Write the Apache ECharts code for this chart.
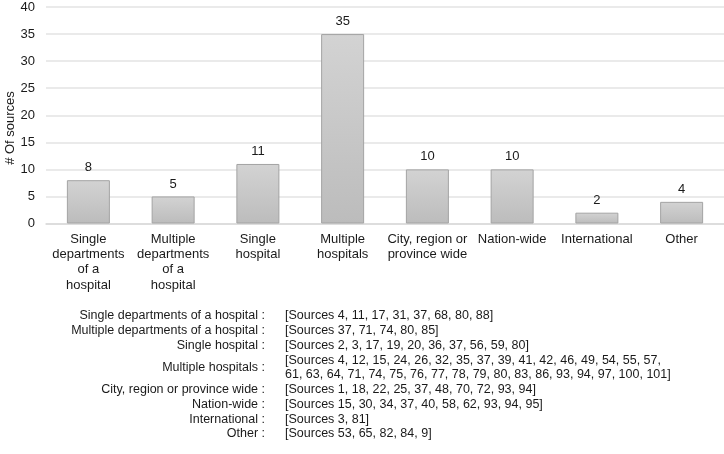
<!DOCTYPE html>
<html>
<head>
<meta charset="utf-8">
<script src="https://cdn.jsdelivr.net/npm/echarts@6/dist/echarts.min.js"></script>
<style>
html,body{margin:0;padding:0;background:#fff;}
#chart{width:724px;height:454px;}
</style>
</head>
<body>
<div id="chart"></div>
<script>
// ---- data ----
var categories = [
  'Single departments of a hospital',
  'Multiple departments of a hospital',
  'Single hospital',
  'Multiple hospitals',
  'City, region or province wide',
  'Nation-wide',
  'International',
  'Other'
];
var tickLabels = [
  'Single\ndepartments\nof a\nhospital',
  'Multiple\ndepartments\nof a\nhospital',
  'Single\nhospital',
  'Multiple\nhospitals',
  'City, region or\nprovince wide',
  'Nation-wide',
  'International',
  'Other'
];
var counts = [8, 5, 11, 35, 10, 10, 2, 4];
var yTicks = [0, 5, 10, 15, 20, 25, 30, 35, 40];

var srcSingleDept = [4, 11, 17, 31, 37, 68, 80, 88];
var srcMultiDept = [37, 71, 74, 80, 85];
var srcSingleHosp = [2, 3, 17, 19, 20, 36, 37, 56, 59, 80];
var srcMultiHosp = [4, 12, 15, 24, 26, 32, 35, 37, 39, 41, 42, 46, 49, 54, 55, 57,
  61, 63, 64, 71, 74, 75, 76, 77, 78, 79, 80, 83, 86, 93, 94, 97, 100, 101];
var srcCity = [1, 18, 22, 25, 37, 48, 70, 72, 93, 94];
var srcNation = [15, 30, 34, 37, 40, 58, 62, 93, 94, 95];
var srcIntl = [3, 81];
var srcOther = [53, 65, 82, 84, 9];
var sourceLists = [srcSingleDept, srcMultiDept, srcSingleHosp, srcMultiHosp, srcCity, srcNation, srcIntl, srcOther];
var wrapAfter = 16; // items on first line before wrapping

// ---- chart ----
var FONT = '"Liberation Sans", Arial, Helvetica, sans-serif';
var TXT = '#1a1a1a';

var chart = echarts.init(document.getElementById('chart'), null, {renderer: 'canvas'});

// Build table text elements
var graphics = [];
var lineY0 = 316, lineStep = 14.75;
var lineIdx = 0;
for (var i = 0; i < categories.length; i++) {
  var list = sourceLists[i];
  var lines = [];
  if (list.length > wrapAfter + 2) {
    lines.push('[Sources ' + list.slice(0, wrapAfter).join(', ') + ',');
    lines.push(list.slice(wrapAfter).join(', ') + ']');
  } else {
    lines.push('[Sources ' + list.join(', ') + ']');
  }
  var firstY = lineY0 + lineIdx * lineStep;
  var labelY = firstY + (lines.length - 1) * lineStep / 2;
  graphics.push({
    type: 'text', x: 265, y: labelY,
    style: {text: categories[i] + ' :', fill: TXT, font: '12.5px ' + FONT, textAlign: 'right', textVerticalAlign: 'middle'}
  });
  for (var j = 0; j < lines.length; j++) {
    graphics.push({
      type: 'text', x: 285, y: firstY + j * lineStep,
      style: {text: lines[j], fill: TXT, font: '12.5px ' + FONT, textAlign: 'left', textVerticalAlign: 'middle'}
    });
  }
  lineIdx += lines.length;
}
graphics.push({
  type: 'text', x: 10, y: 128, rotation: Math.PI / 2,
  style: {text: '# Of sources', fill: TXT, font: '13px ' + FONT, textAlign: 'center', textVerticalAlign: 'middle'}
});

var option = {
  animation: false,
  backgroundColor: '#ffffff',
  grid: {left: 46, right: 0, top: 7, height: 216.5, containLabel: false},
  xAxis: {
    type: 'category',
    data: categories,
    axisLine: {show: true, lineStyle: {color: '#d9d9d9', width: 1.5}},
    axisTick: {show: false},
    axisLabel: {
      interval: 0,
      margin: 8,
      color: TXT,
      fontFamily: FONT,
      fontSize: 13,
      lineHeight: 15.3,
      verticalAlign: 'top',
      formatter: function (v, idx) { return tickLabels[idx]; }
    },
    splitLine: {show: false}
  },
  yAxis: {
    type: 'value',
    min: yTicks[0],
    max: yTicks[yTicks.length - 1],
    interval: 5,
    axisLine: {show: false},
    axisTick: {show: false},
    axisLabel: {color: TXT, fontFamily: FONT, fontSize: 13, margin: 11},
    splitLine: {lineStyle: {color: '#e3e3e3', width: 1.5}}
  },
  series: [{
    type: 'bar',
    data: counts,
    barWidth: 43,
    itemStyle: {
      color: new echarts.graphic.LinearGradient(0, 0, 0, 1, [
        {offset: 0, color: '#d3d3d3'},
        {offset: 1, color: '#bcbcbc'}
      ]),
      borderColor: '#a3a3a3',
      borderWidth: 1
    },
    label: {
      show: true,
      position: 'top',
      distance: 6,
      color: TXT,
      fontFamily: FONT,
      fontSize: 13
    }
  }],
  graphic: graphics
};
chart.setOption(option);
</script>
</body>
</html>
